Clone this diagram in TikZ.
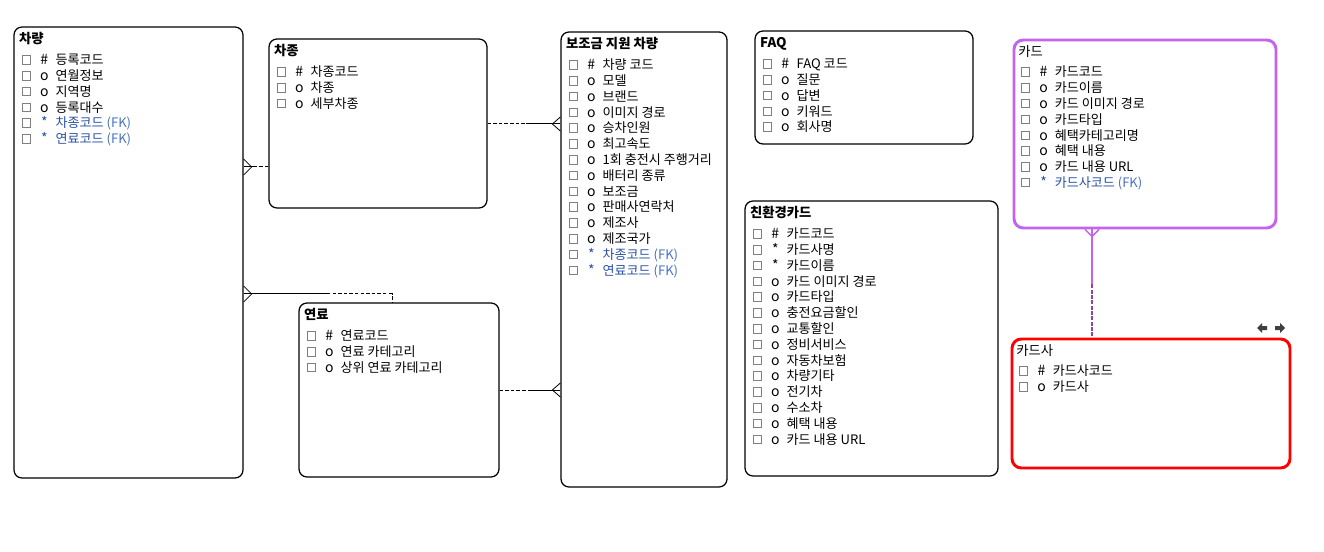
\documentclass[tikz,border=0pt]{standalone}
\usepackage{fontspec}
\setmainfont{Noto Sans CJK KR}
\usetikzlibrary{calc,fit}

\definecolor{fkblue}{RGB}{40,80,165}
\definecolor{fklight}{RGB}{75,115,195}
\definecolor{cardpurple}{RGB}{195,100,240}
\definecolor{cardred}{RGB}{255,0,0}
\definecolor{boxgray}{RGB}{128,128,128}
\definecolor{icongray}{RGB}{64,64,64}

\tikzset{
  entity/.style={draw=black, rounded corners=6pt, line width=0.95pt, inner sep=0pt},
  chk/.style={draw=boxgray, line width=0.6pt, minimum size=6.4pt, inner sep=0pt},
  sym/.style={anchor=base, inner sep=0pt, font=\fontsize{10.5}{12}\selectfont},
  attr/.style={anchor=base west, inner sep=0pt, font=\fontsize{9.8}{12}\selectfont},
  etitle/.style={anchor=base west, inner sep=0pt, font=\fontsize{10}{12}\selectfont\bfseries},
  ptitle/.style={anchor=base west, inner sep=0pt, font=\fontsize{10}{12}\selectfont},
  rel/.style={draw=black, line width=0.75pt},
  reldash/.style={rel, dash pattern=on 2.6pt off 1.6pt},
  crow/.style={draw=black, line width=0.6pt},
}

% one attribute row: entity, row number, symbol, text, text colour
\newcommand{\entrow}[5]{%
  \node[chk] (#1-b#2) at ($(#1.north west)+(13,{33.5+15.8*(#2-1)})$) {};
  \node[sym,text=#5] (#1-s#2) at ($(#1.north west)+(31,{38.3+15.8*(#2-1)})$) {#3};
  \node[attr,text=#5] (#1-t#2) at ($(#1.north west)+(42,{38.3+15.8*(#2-1)})$) {#4};
}
% entity title: entity, text, style
\newcommand{\enttitle}[3][etitle]{%
  \node[#1] (#2-title) at ($(#2.north west)+(5.5,17.5)$) {#3};
}
\newcommand{\fk}[1]{#1 \textcolor{fklight}{(FK)}}

\begin{document}
\begin{tikzpicture}[x=0.75pt,y=-0.75pt]
\useasboundingbox (0,0) rectangle (1324,552);

% ---------- entities ----------
\node[entity, fit={(14,27) (243,478)}] (car) {};
\node[entity, fit={(269,39) (487,208)}] (kind) {};
\node[entity, fit={(299,303) (499,477)}] (fuel) {};
\node[entity, fit={(561,32) (727,487)}] (sub) {};
\node[entity, fit={(755,31) (973,144)}] (faq) {};
\node[entity, fit={(745,201) (998,476)}] (eco) {};
\node[entity, draw=cardpurple, line width=2.2pt, rounded corners=7pt, fit={(1014,40) (1276,228)}] (card) {};
\node[entity, draw=cardred, line width=2.2pt, rounded corners=7pt, fit={(1012,339) (1290,468)}] (issuer) {};

% 차량
\enttitle{car}{차량}
\entrow{car}{1}{\#}{등록코드}{black}
\entrow{car}{2}{o}{연월정보}{black}
\entrow{car}{3}{o}{지역명}{black}
\entrow{car}{4}{o}{등록대수}{black}
\entrow{car}{5}{*}{\fk{차종코드}}{fkblue}
\entrow{car}{6}{*}{\fk{연료코드}}{fkblue}

% 차종
\enttitle{kind}{차종}
\entrow{kind}{1}{\#}{차종코드}{black}
\entrow{kind}{2}{o}{차종}{black}
\entrow{kind}{3}{o}{세부차종}{black}

% 연료
\enttitle{fuel}{연료}
\entrow{fuel}{1}{\#}{연료코드}{black}
\entrow{fuel}{2}{o}{연료 카테고리}{black}
\entrow{fuel}{3}{o}{상위 연료 카테고리}{black}

% 보조금 지원 차량
\enttitle{sub}{보조금 지원 차량}
\entrow{sub}{1}{\#}{차량 코드}{black}
\entrow{sub}{2}{o}{모델}{black}
\entrow{sub}{3}{o}{브랜드}{black}
\entrow{sub}{4}{o}{이미지 경로}{black}
\entrow{sub}{5}{o}{승차인원}{black}
\entrow{sub}{6}{o}{최고속도}{black}
\entrow{sub}{7}{o}{1회 충전시 주행거리}{black}
\entrow{sub}{8}{o}{배터리 종류}{black}
\entrow{sub}{9}{o}{보조금}{black}
\entrow{sub}{10}{o}{판매사연락처}{black}
\entrow{sub}{11}{o}{제조사}{black}
\entrow{sub}{12}{o}{제조국가}{black}
\entrow{sub}{13}{*}{\fk{차종코드}}{fkblue}
\entrow{sub}{14}{*}{\fk{연료코드}}{fkblue}

% FAQ
\enttitle{faq}{FAQ}
\entrow{faq}{1}{\#}{FAQ 코드}{black}
\entrow{faq}{2}{o}{질문}{black}
\entrow{faq}{3}{o}{답변}{black}
\entrow{faq}{4}{o}{키워드}{black}
\entrow{faq}{5}{o}{회사명}{black}

% 친환경카드
\enttitle{eco}{친환경카드}
\entrow{eco}{1}{\#}{카드코드}{black}
\entrow{eco}{2}{*}{카드사명}{black}
\entrow{eco}{3}{*}{카드이름}{black}
\entrow{eco}{4}{o}{카드 이미지 경로}{black}
\entrow{eco}{5}{o}{카드타입}{black}
\entrow{eco}{6}{o}{충전요금할인}{black}
\entrow{eco}{7}{o}{교통할인}{black}
\entrow{eco}{8}{o}{정비서비스}{black}
\entrow{eco}{9}{o}{자동차보험}{black}
\entrow{eco}{10}{o}{차량기타}{black}
\entrow{eco}{11}{o}{전기차}{black}
\entrow{eco}{12}{o}{수소차}{black}
\entrow{eco}{13}{o}{혜택 내용}{black}
\entrow{eco}{14}{o}{카드 내용 URL}{black}

% 카드
\enttitle[ptitle]{card}{카드}
\entrow{card}{1}{\#}{카드코드}{black}
\entrow{card}{2}{o}{카드이름}{black}
\entrow{card}{3}{o}{카드 이미지 경로}{black}
\entrow{card}{4}{o}{카드타입}{black}
\entrow{card}{5}{o}{혜택카테고리명}{black}
\entrow{card}{6}{o}{혜택 내용}{black}
\entrow{card}{7}{o}{카드 내용 URL}{black}
\entrow{card}{8}{*}{\fk{카드사코드}}{fkblue}

% 카드사
\enttitle[ptitle]{issuer}{카드사}
\entrow{issuer}{1}{\#}{카드사코드}{black}
\entrow{issuer}{2}{o}{카드사}{black}

% ---------- relationships ----------
\coordinate (yKindCar) at (0,167);
\coordinate (yFuelCar) at (0,294);
\coordinate (yKindSub) at (0,124);
\coordinate (yFuelSub) at (0,390);
\coordinate (xCard) at (1092,0);

% 차종 -> 차량
\draw[reldash] (kind.west |- yKindCar) -- ++(-12,0) coordinate (kc);
\draw[rel] (kc) -- (car.east |- yKindCar);
\draw[crow] ($(car.east |- yKindCar)+(0,-8)$) -- ($(car.east |- yKindCar)+(8,0)$) -- ($(car.east |- yKindCar)+(0,8)$);

% 연료 -> 차량
\coordinate (fuelTop) at ($(fuel.north)+(-7,0)$);
\draw[rel] (car.east |- yFuelCar) -- ($(fuelTop |- yFuelCar)+(-65,0)$) coordinate (fc);
\draw[reldash] (fc) -- (fuelTop |- yFuelCar) -- (fuelTop);
\draw[crow] ($(car.east |- yFuelCar)+(0,-8)$) -- ($(car.east |- yFuelCar)+(8,0)$) -- ($(car.east |- yFuelCar)+(0,8)$);

% 차종 -> 보조금 지원 차량
\draw[reldash] (kind.east |- yKindSub) -- ++(38,0) coordinate (ks);
\draw[rel] (ks) -- (sub.west |- yKindSub);
\draw[crow] ($(sub.west |- yKindSub)+(0,-7)$) -- ($(sub.west |- yKindSub)+(-8,0)$) -- ($(sub.west |- yKindSub)+(0,7)$);

% 연료 -> 보조금 지원 차량
\draw[reldash] (fuel.east |- yFuelSub) -- ++(31,0) coordinate (fs);
\draw[rel] (fs) -- (sub.west |- yFuelSub);
\draw[crow] ($(sub.west |- yFuelSub)+(0,-7)$) -- ($(sub.west |- yFuelSub)+(-8,0)$) -- ($(sub.west |- yFuelSub)+(0,7)$);

% 카드사 -> 카드
\draw[draw=cardpurple, line width=1.5pt] (xCard |- card.south) -- ++(0,55) coordinate (ci);
\draw[draw=cardpurple!70!black, line width=1.5pt, dash pattern=on 3pt off 1pt] (ci) -- (xCard |- issuer.north);
\draw[draw=cardpurple, line width=1.1pt] ($(xCard |- card.south)+(-7,0)$) -- ($(xCard |- card.south)+(0,7)$) -- ($(xCard |- card.south)+(7,0)$);

% navigation arrows
\fill[icongray] (1257,328) -- (1262,323) -- (1262,326) -- (1267,326) -- (1267,330) -- (1262,330) -- (1262,333) -- cycle;
\fill[icongray] (1285,328) -- (1280,323) -- (1280,326) -- (1275,326) -- (1275,330) -- (1280,330) -- (1280,333) -- cycle;

\end{tikzpicture}
\end{document}
